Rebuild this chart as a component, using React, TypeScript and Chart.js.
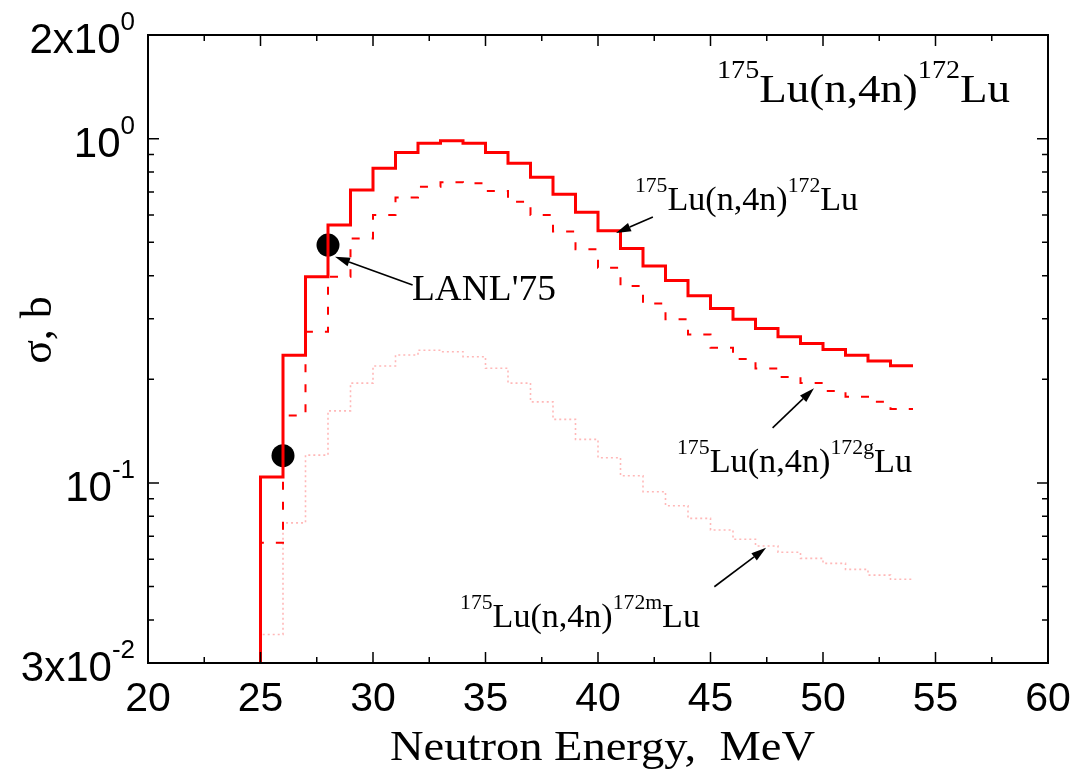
import { useEffect, useRef } from 'react';
import { Chart, registerables } from 'chart.js';

Chart.register(...registerables);

// ---- data ----
const binEdges = [25, 26, 27, 28, 29, 30, 31, 32, 33, 34, 35, 36, 37, 38, 39, 40, 41, 42, 43, 44, 45, 46, 47, 48, 49, 50, 51, 52, 53, 54];
// 175Lu(n,4n)172Lu total (solid)
const totalXS = [0.104, 0.235, 0.397, 0.561, 0.709, 0.820, 0.912, 0.969, 0.986, 0.969, 0.912, 0.848, 0.772, 0.690, 0.611, 0.540, 0.480, 0.427, 0.387, 0.350, 0.321, 0.299, 0.281, 0.266, 0.254, 0.244, 0.235, 0.226, 0.219];
// 175Lu(n,4n)172gLu (dashed)
const groundXS = [0.0671, 0.157, 0.275, 0.397, 0.513, 0.600, 0.675, 0.725, 0.747, 0.742, 0.705, 0.656, 0.600, 0.537, 0.477, 0.422, 0.373, 0.332, 0.299, 0.270, 0.247, 0.229, 0.215, 0.203, 0.195, 0.185, 0.178, 0.172, 0.164];
// 175Lu(n,4n)172mLu (dotted)
const isomerXS = [0.0363, 0.0766, 0.1205, 0.162, 0.195, 0.2186, 0.2352, 0.243, 0.2405, 0.2326, 0.2153, 0.195, 0.172, 0.153, 0.1338, 0.1184, 0.1049, 0.0943, 0.0859, 0.0789, 0.073, 0.0686, 0.0656, 0.0629, 0.0604, 0.0584, 0.0561, 0.054, 0.0525];
// LANL'75 experimental points
const lanlEnergy = [26, 28];
const lanlXS = [0.12, 0.491];

// ---- axes ----
const xMin = 20;
const xMax = 60;
const yMin = 0.03;
const yMax = 2;
const xMajorTicks = [20, 25, 30, 35, 40, 45, 50, 55, 60];
const xMinorTicks = [22.5, 27.5, 32.5, 37.5, 42.5, 47.5, 52.5, 57.5];
const yMajorTicks = [1, 0.1];
const yMinorTicks = [0.04, 0.05, 0.06, 0.07, 0.08, 0.09, 0.2, 0.3, 0.4, 0.5, 0.6, 0.7, 0.8, 0.9];
const yLabelValues = [2, 1, 0.1, 0.03];
const yLabelMantissa = ['2x10', '10', '10', '3x10'];
const yLabelExponent = ['0', '0', '-1', '-2'];

const SERIF = '"Liberation Serif", "Times New Roman", serif';
const SANS = '"Liberation Sans", Arial, sans-serif';

function stepPoints(vals: number[]) {
  const pts: { x: number; y: number }[] = [{ x: binEdges[0], y: 0.01 }];
  vals.forEach((v, i) => pts.push({ x: binEdges[i], y: v }));
  pts.push({ x: binEdges[binEdges.length - 1], y: vals[vals.length - 1] });
  return pts;
}

type Part = { t: string; sup?: boolean };

function drawRich(
  ctx: CanvasRenderingContext2D,
  parts: Part[],
  x: number,
  y: number,
  size: number,
  supSize: number,
  raise: number,
  family: string,
  targetWidth?: number
) {
  const fonts = parts.map((p) => `${p.sup ? supSize : size}px ${family}`);
  let w = 0;
  parts.forEach((p, i) => {
    ctx.font = fonts[i];
    w += ctx.measureText(p.t).width;
  });
  const sx = targetWidth ? targetWidth / w : 1;
  ctx.save();
  ctx.translate(x, y);
  ctx.scale(sx, 1);
  ctx.textAlign = 'left';
  ctx.textBaseline = 'alphabetic';
  let cx = 0;
  parts.forEach((p, i) => {
    ctx.font = fonts[i];
    ctx.fillText(p.t, cx, p.sup ? -raise : 0);
    cx += ctx.measureText(p.t).width;
  });
  ctx.restore();
  return w * sx;
}

function reaction(product: string): Part[] {
  return [
    { t: '175', sup: true },
    { t: 'Lu(n,4n)' },
    { t: product, sup: true },
    { t: 'Lu' },
  ];
}

const decorPlugin = {
  id: 'decor',
  afterDatasetsDraw(chart: any) {
    const ctx: CanvasRenderingContext2D = chart.ctx;
    const xs = chart.scales.x;
    const ys = chart.scales.y;
    const a = chart.chartArea;
    const px = (v: number) => xs.getPixelForValue(v);
    const py = (v: number) => ys.getPixelForValue(v);
    ctx.save();
    ctx.fillStyle = '#000';
    ctx.strokeStyle = '#000';

    // frame
    ctx.lineWidth = 2;
    ctx.strokeRect(a.left, a.top, a.right - a.left, a.bottom - a.top);

    // inward ticks on all four sides
    ctx.lineWidth = 1.5;
    const major = 11;
    const minor = 6;
    ctx.beginPath();
    const xt = (v: number, len: number) => {
      const x = px(v);
      ctx.moveTo(x, a.bottom);
      ctx.lineTo(x, a.bottom - len);
      ctx.moveTo(x, a.top);
      ctx.lineTo(x, a.top + len);
    };
    const yt = (v: number, len: number) => {
      const y = py(v);
      ctx.moveTo(a.left, y);
      ctx.lineTo(a.left + len, y);
      ctx.moveTo(a.right, y);
      ctx.lineTo(a.right - len, y);
    };
    xMajorTicks.forEach((v) => xt(v, major));
    xMinorTicks.forEach((v) => xt(v, minor));
    yMajorTicks.forEach((v) => yt(v, major));
    yMinorTicks.forEach((v) => yt(v, minor));
    ctx.stroke();

    // x tick labels
    ctx.font = `41px ${SANS}`;
    ctx.textAlign = 'center';
    ctx.textBaseline = 'alphabetic';
    xMajorTicks.forEach((v) => ctx.fillText(String(v), px(v), a.bottom + 48));

    // y tick labels (with superscript exponents)
    yLabelValues.forEach((v, i) => {
      const parts: Part[] = [{ t: yLabelMantissa[i] }, { t: yLabelExponent[i], sup: true }];
      let w = 0;
      ctx.font = `42px ${SANS}`;
      w += ctx.measureText(parts[0].t).width;
      ctx.font = `26px ${SANS}`;
      w += ctx.measureText(parts[1].t).width;
      drawRich(ctx, parts, a.left - 13 - w, py(v) + 18, 42, 26, 23, SANS);
    });

    // axis titles
    drawRich(ctx, [{ t: 'Neutron Energy,  MeV' }], 390, a.bottom + 97, 43, 26, 0, SERIF, 425);
    ctx.save();
    ctx.translate(51, (a.top + a.bottom) / 2 - 19);
    ctx.rotate(-Math.PI / 2);
    ctx.font = `44px ${SERIF}`;
    ctx.textAlign = 'center';
    ctx.textBaseline = 'alphabetic';
    ctx.fillText('σ, b', 0, 0);
    ctx.restore();

    // annotations (positions in data coordinates)
    drawRich(ctx, reaction('172'), px(45.29), py(1.28), 40, 25, 24, SERIF, px(58.31) - px(45.29));
    drawRich(ctx, reaction('172'), px(41.64), py(0.62), 33, 21, 18, SERIF, px(51.56) - px(41.64));
    drawRich(ctx, reaction('172g'), px(43.51), py(0.1078), 33, 21, 18, SERIF, px(53.96) - px(43.51));
    drawRich(ctx, reaction('172m'), px(33.87), py(0.0382), 33, 21, 18, SERIF, px(44.53) - px(33.87));
    drawRich(ctx, [{ t: "LANL'75" }], px(31.73), py(0.34), 35, 21, 0, SERIF, px(38.13) - px(31.73));

    // arrows
    const arrow = (x0: number, y0: number, x1: number, y1: number) => {
      const X0 = px(x0), Y0 = py(y0), X1 = px(x1), Y1 = py(y1);
      const ang = Math.atan2(Y1 - Y0, X1 - X0);
      const L = 15, H = 4.5;
      const bx = X1 - L * Math.cos(ang);
      const by = Y1 - L * Math.sin(ang);
      ctx.lineWidth = 1.6;
      ctx.beginPath();
      ctx.moveTo(X0, Y0);
      ctx.lineTo(bx, by);
      ctx.stroke();
      ctx.beginPath();
      ctx.moveTo(X1, Y1);
      ctx.lineTo(bx + H * Math.sin(ang), by - H * Math.cos(ang));
      ctx.lineTo(bx - H * Math.sin(ang), by + H * Math.cos(ang));
      ctx.closePath();
      ctx.fill();
    };
    arrow(31.76, 0.3757, 28.31, 0.4539);
    arrow(42.44, 0.592, 40.8, 0.532);
    arrow(47.76, 0.1446, 49.6, 0.1883);
    arrow(45.17, 0.04995, 47.47, 0.0648);

    ctx.restore();
  },
};

export default function App() {
  const ref = useRef<HTMLCanvasElement | null>(null);

  useEffect(() => {
    if (!ref.current) return;
    const chart = new Chart(ref.current, {
      type: 'line',
      data: {
        datasets: [
          {
            label: '175Lu(n,4n)172Lu',
            data: stepPoints(totalXS),
            borderColor: '#ff0000',
            borderWidth: 3,
            stepped: 'before',
            pointRadius: 0,
            fill: false,
          },
          {
            label: '175Lu(n,4n)172gLu',
            data: stepPoints(groundXS),
            borderColor: '#ff0000',
            borderWidth: 2,
            borderDash: [8, 12],
            stepped: 'before',
            pointRadius: 0,
            fill: false,
          },
          {
            label: '175Lu(n,4n)172mLu',
            data: stepPoints(isomerXS),
            borderColor: '#ffb8b8',
            borderWidth: 1.6,
            borderDash: [2, 3],
            stepped: 'before',
            pointRadius: 0,
            fill: false,
          },
          {
            label: "LANL'75",
            data: lanlEnergy.map((e, i) => ({ x: e, y: lanlXS[i] })),
            showLine: false,
            pointRadius: 11.5,
            pointBackgroundColor: '#000',
            pointBorderWidth: 0,
            borderColor: '#000',
          },
        ],
      },
      options: {
        animation: false,
        responsive: false,
        events: [],
        layout: { padding: { left: 148, top: 35, right: 33, bottom: 117 } },
        scales: {
          x: { type: 'linear', min: xMin, max: xMax, display: false },
          y: { type: 'logarithmic', min: yMin, max: yMax, display: false },
        },
        plugins: { legend: { display: false }, tooltip: { enabled: false } },
      },
      plugins: [decorPlugin],
    });
    return () => chart.destroy();
  }, []);

  return (
    <div style={{ position: 'fixed', left: 0, top: 0, width: 1081, height: 780, background: '#fff' }}>
      <canvas ref={ref} width={1081} height={780} style={{ display: 'block', width: 1081, height: 780 }} />
    </div>
  );
}
